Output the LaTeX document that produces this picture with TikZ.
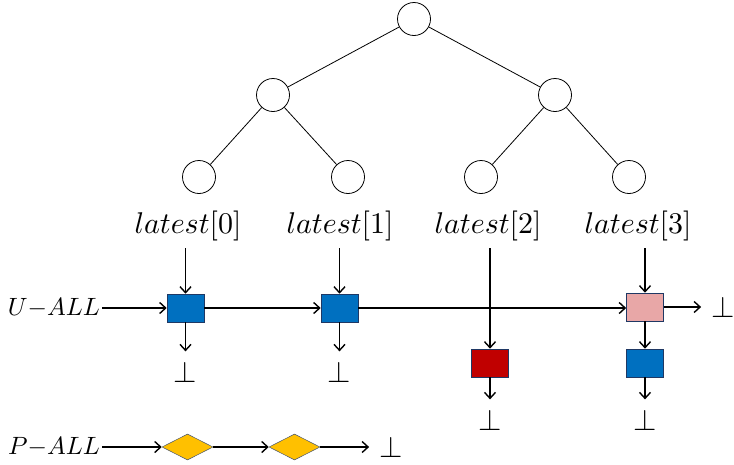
\RequirePackage{fix-cm}
\documentclass[tikz,border=0pt]{standalone}
\usetikzlibrary{arrows.meta,shapes.geometric}
\DeclareFontShape{OML}{cmm}{m}{it}{<->cmmi10}{}
\DeclareFontShape{OMS}{cmsy}{m}{n}{<->cmsy10}{}
\DeclareFontShape{OT1}{cmr}{m}{n}{<->cmr10}{}
\definecolor{qblue}{HTML}{0070C0}
\definecolor{qred}{HTML}{C00000}
\definecolor{qpink}{HTML}{E8A7A7}
\definecolor{qgold}{HTML}{FFC000}
\definecolor{qedge}{HTML}{1F3864}

\begin{document}
\begin{tikzpicture}[x=1pt, y=-1pt, >={Straight Barb[length=6pt,width=11pt]},
    every node/.style={font=\fontsize{30}{34}\selectfont},
    tnode/.style={circle, draw, line width=0.8pt, minimum size=33pt, inner sep=0pt},
    qbox/.style={draw=qedge, line width=0.6pt, minimum width=37pt, minimum height=28pt, inner sep=0pt},
    pdiam/.style={diamond, draw=qedge!60!gray, fill=qgold, line width=0.5pt,
      minimum width=51pt, minimum height=26pt, inner sep=0pt},
    botsym/.style={inner sep=10pt, font=\fontsize{30}{32}\selectfont},
    lbl/.style={inner ysep=7pt},
    listname/.style={anchor=east, inner sep=2pt, font=\fontsize{25}{30}\selectfont},
    link/.style={->, line width=1.4pt}]
  \useasboundingbox (0,0) rectangle (734,464);

  % tree
  \node[tnode] (root) at (414,19) {};
  \node[tnode] (nl) at (273,95) {};
  \node[tnode] (nr) at (555,95) {};
  \node[tnode] (t0) at (199,177) {};
  \node[tnode] (t1) at (348,177) {};
  \node[tnode] (t2) at (481,177) {};
  \node[tnode] (t3) at (629,177) {};
  \draw[line width=0.8pt] (root) -- (nl);
  \draw[line width=0.8pt] (root) -- (nr);
  \draw[line width=0.8pt] (nl) -- (t0);
  \draw[line width=0.8pt] (nl) -- (t1);
  \draw[line width=0.8pt] (nr) -- (t2);
  \draw[line width=0.8pt] (nr) -- (t3);

  \node[lbl] (lat0) at (188,226) {$latest[0]$};
  \node[lbl] (lat1) at (340,226) {$latest[1]$};
  \node[lbl] (lat2) at (488,226) {$latest[2]$};
  \node[lbl] (lat3) at (638,226) {$latest[3]$};

  % U-ALL list
  \node[listname] (uall) at (102,308) {$U{-}ALL$};
  \node[qbox, fill=qblue] (q0) at (185.5,308) {};
  \node[qbox, fill=qblue] (q1) at (339.5,308) {};
  \node[qbox, fill=qpink] (q3) at (645,307) {};
  \node[qbox, fill=qred] (q2) at (490,363) {};
  \node[qbox, fill=qblue] (q3b) at (645,363) {};

  \node[botsym] (b0) at (185.5,372) {$\bot$};
  \node[botsym] (b1) at (339.5,372) {$\bot$};
  \node[botsym] (b2) at (490,420) {$\bot$};
  \node[botsym] (b3) at (645,420) {$\bot$};
  \node[botsym] (bR) at (723,307) {$\bot$};

  \draw[link] (uall) -- (q0);
  \draw[link] (q0) -- (q1);
  \draw[link] (q1.east) -- (q3.west |- q1.east);
  \draw[link] (lat0.south -| q0.north) -- (q0.north);
  \draw[link] (lat1.south -| q1.north) -- (q1.north);
  \draw[link] (lat2.south -| q2.north) -- (q2.north);
  \draw[link] (lat3.south -| q3.north) -- (q3.north);
  \draw[link] (q0) -- (b0);
  \draw[link] (q1) -- (b1);
  \draw[link] (q2) -- (b2);
  \draw[link] (q3) -- (q3b);
  \draw[link] (q3b) -- (b3);
  \draw[link] (q3) -- (bR);

  % P-ALL list
  \node[listname] (pall) at (102,447) {$P{-}ALL$};
  \node[pdiam] (p0) at (187.5,447) {};
  \node[pdiam] (p1) at (294.5,447) {};
  \node[botsym] (bP) at (391,447) {$\bot$};
  \draw[link] (pall) -- (p0);
  \draw[link] (p0) -- (p1);
  \draw[link] (p1) -- (bP);
\end{tikzpicture}
\end{document}
